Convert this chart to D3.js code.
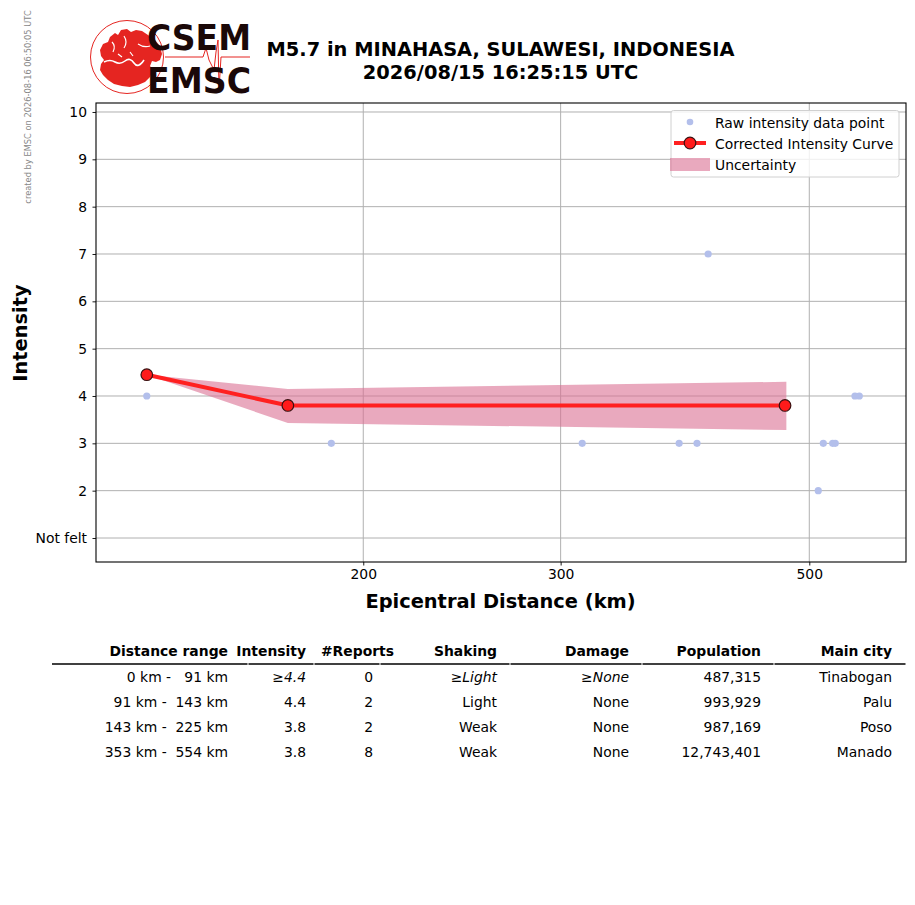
<!DOCTYPE html>
<html><head><meta charset="utf-8">
<script src="https://cdn.jsdelivr.net/npm/d3@7"></script>
<style>
body{margin:0;background:#fff;}
svg{font-family:"DejaVu Sans",sans-serif;}
</style></head>
<body><svg id="c" width="915" height="905"></svg>
<script>
// ---- data ----
const rawDistances   = [128.2, 187.3, 313.6, 382.7, 397.0, 406.2, 509.3, 514.6, 524.6, 527.4, 549.2, 554.1];
const rawIntensities = [4, 3, 3, 3, 3, 7, 2, 3, 3, 3, 4, 4];
const curveDistances   = [128.2, 171.3, 475.7];
const curveIntensities = [4.45, 3.8, 3.8];
const bandDistances = [128.2, 171.3, 477];
const bandLower     = [4.45, 3.43, 3.28];
const bandUpper     = [4.45, 4.15, 4.30];
const xTicks = [200, 300, 500];
const yTicks = [1, 2, 3, 4, 5, 6, 7, 8, 9, 10];
const yTickLabels = ["Not felt", "2", "3", "4", "5", "6", "7", "8", "9", "10"];
const titleLines = ["M5.7 in MINAHASA, SULAWESI, INDONESIA", "2026/08/15 16:25:15 UTC"];
const legendLabels = ["Raw intensity data point", "Corrected Intensity Curve", "Uncertainty"];
const tableHeaders = ["Distance range", "Intensity", "#Reports", "Shaking", "Damage", "Population", "Main city"];
const tableRows = [
  ["0 km -   91 km", "≥4.4", "0", "≥Light", "≥None", "487,315", "Tinabogan"],
  ["91 km -  143 km", "4.4", "2", "Light", "None", "993,929", "Palu"],
  ["143 km -  225 km", "3.8", "2", "Weak", "None", "987,169", "Poso"],
  ["353 km -  554 km", "3.8", "8", "Weak", "None", "12,743,401", "Manado"]
];
const italicRow = 0;
const creditText = "created by EMSC on 2026-08-16 06:50:05 UTC";

// ---- layout ----
const FS = 13.9;
const svg = d3.select("#c");
const L = 96, R = 906, T = 103, B = 562;
const x = d3.scaleLog().domain([115.5, 609.9]).range([L, R]);
const y = d3.scaleLinear().domain([0.493, 10.19]).range([B, T]);

// credit text
svg.append("text").attr("transform", "translate(31,107) rotate(-90)")
  .attr("text-anchor", "middle").attr("font-size", 8.3).attr("fill", "#888").text(creditText);

// logo
const logo = svg.append("g");
logo.append("circle").attr("cx", 127).attr("cy", 57).attr("r", 36.5)
  .attr("fill", "none").attr("stroke", "#e52521").attr("stroke-width", 1);
logo.append("path").attr("fill", "#e52521").attr("d",
  "M100,50 L103,44 L108,42 L110,37 L115,33 L118,35 L121,30 L127,29 L131,32 L136,30 L142,31 L148,35 L155,40 L160,46 L162,54 L160,60 L156,62 L152,61 L150,66 L153,70 L150,77 L145,82 L138,85 L130,87 L122,86 L114,84 L108,80 L103,75 L100,70 L101,64 L104,60 L101,56 Z");
logo.append("path").attr("fill", "none").attr("stroke", "#fff").attr("stroke-width", 1.6)
  .attr("d", "M104,62 Q110,59 115,62 T125,61 T134,63 T144,60");
logo.append("path").attr("fill", "none").attr("stroke", "#fff").attr("stroke-width", 1.2)
  .attr("d", "M112,42 Q116,46 113,52 M124,36 Q128,42 124,48 M138,44 Q144,48 150,46 M118,54 L122,57 M130,52 L133,56");
logo.append("path").attr("fill", "none").attr("stroke", "#e52521").attr("stroke-width", 1)
  .attr("d", "M165,57 L203,57 L206,48 L209,60 L212,66 L214,70 L216,52 L218,40 L219,90 L221,57 L250,57");
logo.append("text").attr("x", 147).attr("y", 50).attr("font-size", 36).attr("font-weight", "bold")
  .attr("fill", "#1a0808").attr("textLength", 104).attr("lengthAdjust", "spacingAndGlyphs").text("CSEM");
logo.append("text").attr("x", 147).attr("y", 93).attr("font-size", 36).attr("font-weight", "bold")
  .attr("fill", "#1a0808").attr("textLength", 104).attr("lengthAdjust", "spacingAndGlyphs").text("EMSC");

// title
titleLines.forEach((t, i) => {
  svg.append("text").attr("x", 500.5).attr("y", 56 + i * 23).attr("text-anchor", "middle")
    .attr("font-size", 19.4).attr("font-weight", "bold").attr("fill", "#000").text(t);
});

// grid
const grid = svg.append("g");
yTicks.forEach(v => grid.append("line").attr("x1", L).attr("x2", R).attr("y1", y(v)).attr("y2", y(v))
  .attr("stroke", "#b0b0b0").attr("stroke-width", 1));
xTicks.forEach(v => grid.append("line").attr("y1", T).attr("y2", B).attr("x1", x(v)).attr("x2", x(v))
  .attr("stroke", "#b0b0b0").attr("stroke-width", 1));

// band
const bandData = bandDistances.map((d, i) => ({d, lo: bandLower[i], hi: bandUpper[i]}));
svg.append("path").datum(bandData)
  .attr("d", d3.area().x(p => x(p.d)).y0(p => y(p.lo)).y1(p => y(p.hi)))
  .attr("fill", "#db7093").attr("fill-opacity", 0.6);

// raw points
svg.append("g").selectAll("circle").data(rawDistances.map((d, i) => [d, rawIntensities[i]]))
  .join("circle").attr("cx", p => x(p[0])).attr("cy", p => y(p[1])).attr("r", 3.6)
  .attr("fill", "#b3bfeb");

// curve
const curveData = curveDistances.map((d, i) => [d, curveIntensities[i]]);
svg.append("path").datum(curveData).attr("d", d3.line().x(p => x(p[0])).y(p => y(p[1])))
  .attr("fill", "none").attr("stroke", "#ff2020").attr("stroke-width", 4);
svg.append("g").selectAll("circle").data(curveData).join("circle")
  .attr("cx", p => x(p[0])).attr("cy", p => y(p[1])).attr("r", 5.8)
  .attr("fill", "#ff1a1a").attr("stroke", "#3a1010").attr("stroke-width", 1.2);

// axes
const xAxis = d3.axisBottom(x).tickValues(xTicks).tickFormat(d3.format("d")).tickSizeOuter(0).tickSize(3.5).tickPadding(4);
const gx = svg.append("g").attr("transform", `translate(0,${B})`).call(xAxis);
const yAxis = d3.axisLeft(y).tickValues(yTicks).tickFormat((d, i) => yTickLabels[i]).tickSizeOuter(0).tickSize(3.5).tickPadding(5.5);
const gy = svg.append("g").attr("transform", `translate(${L},0)`).call(yAxis);
[gx, gy].forEach(g => {
  g.selectAll("text").attr("font-size", FS).attr("font-family", "DejaVu Sans").attr("fill", "#000");
  g.select(".domain").remove();
  g.selectAll(".tick line").attr("stroke", "#000").attr("stroke-width", 0.9);
});
svg.append("rect").attr("x", L).attr("y", T).attr("width", R - L).attr("height", B - T)
  .attr("fill", "none").attr("stroke", "#000").attr("stroke-width", 1.1);

// axis labels
svg.append("text").attr("x", 500.5).attr("y", 608).attr("text-anchor", "middle")
  .attr("font-size", 19.4).attr("font-weight", "bold").text("Epicentral Distance (km)");
svg.append("text").attr("transform", "translate(27,333) rotate(-90)").attr("text-anchor", "middle")
  .attr("font-size", 19.4).attr("font-weight", "bold").text("Intensity");

// legend
const lg = svg.append("g");
lg.append("rect").attr("x", 671).attr("y", 110.5).attr("width", 228).attr("height", 66.5).attr("rx", 2.5)
  .attr("fill", "#fff").attr("fill-opacity", 0.8).attr("stroke", "#d0d0d0").attr("stroke-width", 1);
lg.append("circle").attr("cx", 690).attr("cy", 122).attr("r", 3.3).attr("fill", "#b3bfeb");
lg.append("line").attr("x1", 674).attr("x2", 706).attr("y1", 143).attr("y2", 143).attr("stroke", "#ff2020").attr("stroke-width", 4);
lg.append("circle").attr("cx", 690).attr("cy", 143).attr("r", 5.8).attr("fill", "#ff1a1a").attr("stroke", "#3a1010").attr("stroke-width", 1.2);
lg.append("rect").attr("x", 670).attr("y", 158).attr("width", 40).attr("height", 13).attr("fill", "#db7093").attr("fill-opacity", 0.6);
legendLabels.forEach((t, i) => lg.append("text").attr("x", 715).attr("y", 127.5 + i * 21)
  .attr("font-size", FS).text(t));

// table
const colRight = [228, 306, 373, 497, 629, 761, 892];
const headRight = [228, 306, 394, 497, 629, 761, 892];
const colEdges = [52, 248, 314, 380, 510, 642, 774, 906];
const tb = svg.append("g");
tableHeaders.forEach((h, i) => tb.append("text").attr("x", headRight[i]).attr("y", 656)
  .attr("text-anchor", "end").attr("font-size", FS).attr("font-weight", "bold").text(h));
for (let i = 0; i < colEdges.length - 1; i++) {
  tb.append("line").attr("x1", colEdges[i] + (i ? 0.5 : 0)).attr("x2", colEdges[i + 1] - 0.5)
    .attr("y1", 664).attr("y2", 664).attr("stroke", "#000").attr("stroke-width", 1.5);
}
tableRows.forEach((row, r) => {
  row.forEach((v, c) => {
    const t = tb.append("text").attr("x", colRight[c]).attr("y", 682 + r * 25)
      .attr("text-anchor", "end").attr("font-size", FS).attr("xml:space", "preserve").text(v);
    if (r === italicRow && (c === 1 || c === 3 || c === 4)) t.attr("font-style", "italic");
  });
});
</script></body></html>
